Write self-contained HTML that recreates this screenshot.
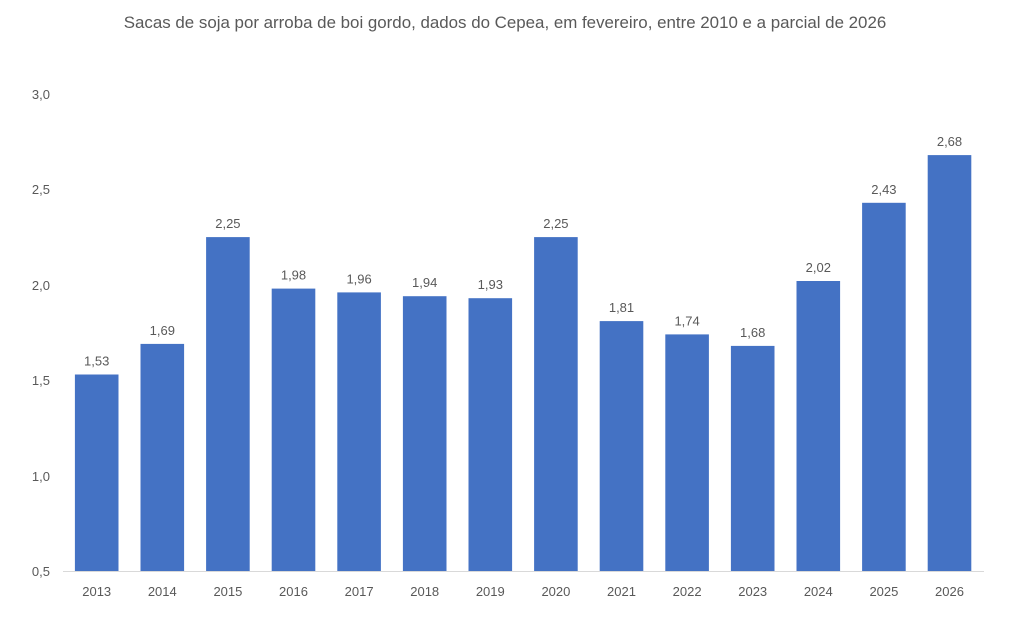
<!DOCTYPE html>
<html><head><meta charset="utf-8"><style>
body{margin:0;background:#fff;}
text{font-family:"Liberation Sans",sans-serif;fill:#595959;}
</style></head><body>
<svg width="1020" height="629" xmlns="http://www.w3.org/2000/svg">
<rect width="1020" height="629" fill="#fff"/>
<text x="505" y="28" text-anchor="middle" font-size="16.9">Sacas de soja por arroba de boi gordo, dados do Cepea, em fevereiro, entre 2010 e  a parcial de 2026</text>
<g font-size="13" text-anchor="end">
<text x="50" y="576">0,5</text>
<text x="50" y="481">1,0</text>
<text x="50" y="385">1,5</text>
<text x="50" y="290">2,0</text>
<text x="50" y="194">2,5</text>
<text x="50" y="99">3,0</text>
</g>
<line x1="63" y1="571.5" x2="984" y2="571.5" stroke="#d9d9d9" stroke-width="1"/>
<g fill="#4472c4">
<rect x="74.9" y="374.5" width="43.6" height="196.5"/>
<rect x="140.5" y="343.9" width="43.6" height="227.1"/>
<rect x="206.1" y="237.1" width="43.6" height="333.9"/>
<rect x="271.7" y="288.6" width="43.6" height="282.4"/>
<rect x="337.3" y="292.4" width="43.6" height="278.6"/>
<rect x="402.9" y="296.2" width="43.6" height="274.8"/>
<rect x="468.5" y="298.2" width="43.6" height="272.8"/>
<rect x="534.1" y="237.1" width="43.6" height="333.9"/>
<rect x="599.7" y="321.1" width="43.6" height="249.9"/>
<rect x="665.3" y="334.4" width="43.6" height="236.6"/>
<rect x="730.9" y="345.9" width="43.6" height="225.1"/>
<rect x="796.5" y="281.0" width="43.6" height="290.0"/>
<rect x="862.1" y="202.8" width="43.6" height="368.2"/>
<rect x="927.7" y="155.1" width="43.6" height="415.9"/>
</g>
<g font-size="13" text-anchor="middle" style="fill:#404040">
<text x="96.7" y="365.5" fill="#404040">1,53</text>
<text x="162.3" y="334.9" fill="#404040">1,69</text>
<text x="227.9" y="228.1" fill="#404040">2,25</text>
<text x="293.5" y="279.6" fill="#404040">1,98</text>
<text x="359.1" y="283.4" fill="#404040">1,96</text>
<text x="424.7" y="287.2" fill="#404040">1,94</text>
<text x="490.3" y="289.2" fill="#404040">1,93</text>
<text x="555.9" y="228.1" fill="#404040">2,25</text>
<text x="621.5" y="312.1" fill="#404040">1,81</text>
<text x="687.1" y="325.4" fill="#404040">1,74</text>
<text x="752.7" y="336.9" fill="#404040">1,68</text>
<text x="818.3" y="272.0" fill="#404040">2,02</text>
<text x="883.9" y="193.8" fill="#404040">2,43</text>
<text x="949.5" y="146.1" fill="#404040">2,68</text>
</g>
<g font-size="13" text-anchor="middle">
<text x="96.7" y="596">2013</text>
<text x="162.3" y="596">2014</text>
<text x="227.9" y="596">2015</text>
<text x="293.5" y="596">2016</text>
<text x="359.1" y="596">2017</text>
<text x="424.7" y="596">2018</text>
<text x="490.3" y="596">2019</text>
<text x="555.9" y="596">2020</text>
<text x="621.5" y="596">2021</text>
<text x="687.1" y="596">2022</text>
<text x="752.7" y="596">2023</text>
<text x="818.3" y="596">2024</text>
<text x="883.9" y="596">2025</text>
<text x="949.5" y="596">2026</text>
</g>
</svg>
</body></html>
